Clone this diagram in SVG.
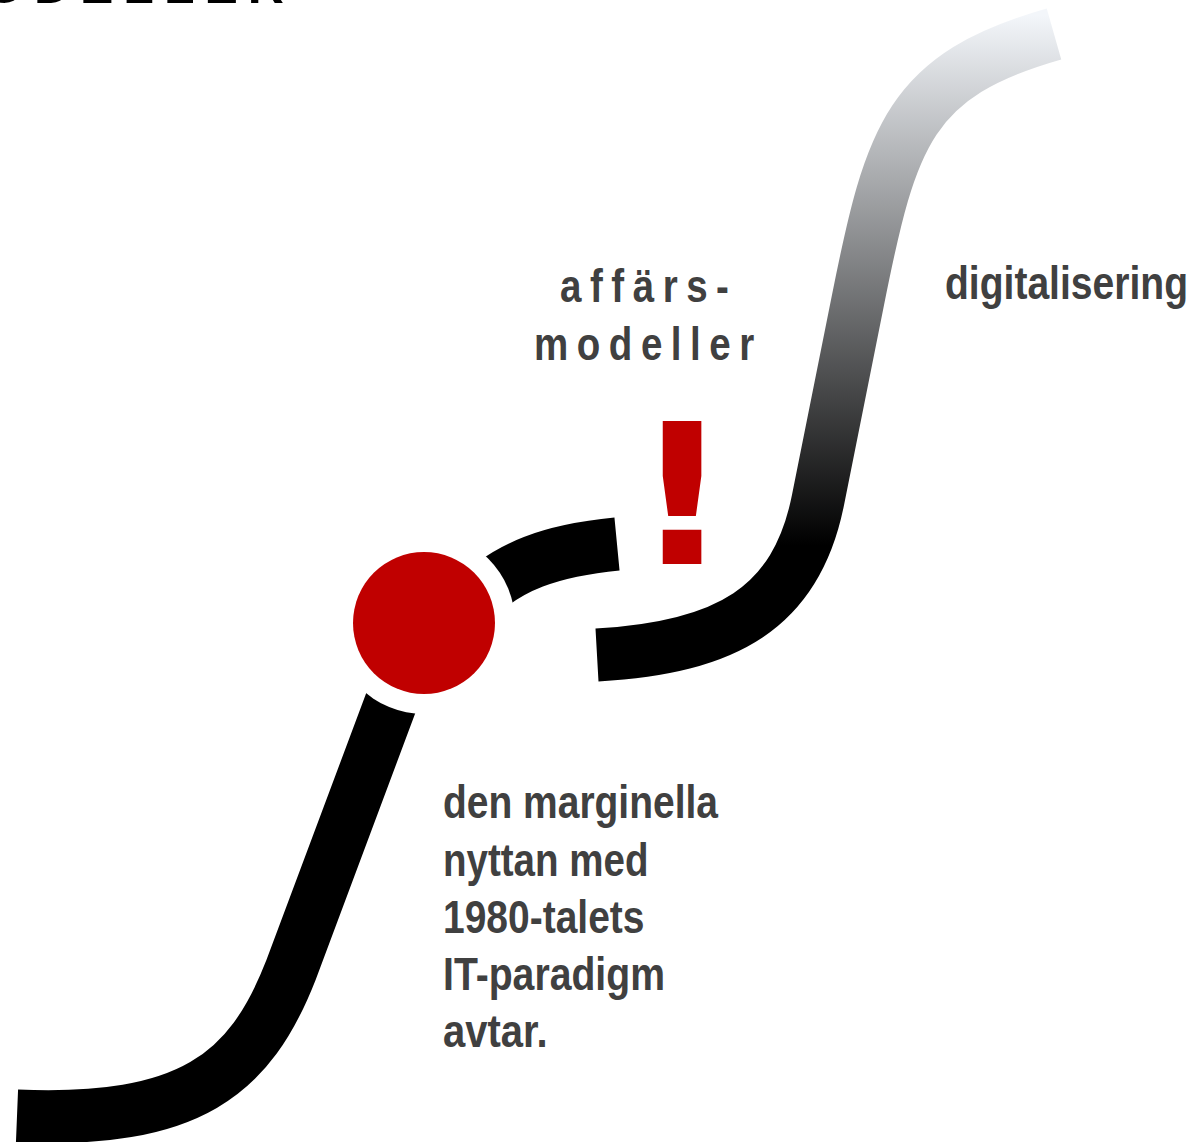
<svg xmlns="http://www.w3.org/2000/svg" width="1197" height="1142" viewBox="0 0 1197 1142">
  <style>
    .lbl { font-family: "Liberation Sans", Arial, sans-serif; font-weight: bold; font-size: 47px; fill: #404040; }
    .curve { fill: none; stroke-width: 53; stroke-linecap: butt; stroke-linejoin: round; }
  </style>
  <defs>
    <linearGradient id="fade" gradientUnits="userSpaceOnUse" x1="0" y1="545" x2="0" y2="15">
      <stop offset="0" stop-color="#000000"/>
      <stop offset="1" stop-color="#f3f6fa"/>
    </linearGradient>
  </defs>
  <rect width="1197" height="1142" fill="#ffffff"/>

  <g id="title">
    <text x="-15" y="3" font-family="Liberation Sans, Arial, sans-serif" font-weight="bold" font-size="50" letter-spacing="10" fill="#000000">ODELLER</text>
  </g>

  <g id="connectors">
    <path class="curve" stroke="#000000" d="M 17 1116 C 190 1123, 250 1075, 291 970 L 405 665"/>
    <path class="curve" stroke="#000000" d="M 470 605 C 505 565, 555 550, 617 544"/>
    <path class="curve" stroke="url(#fade)" d="M 597 655 C 727 647.6, 796.5 607.9, 818 500 L 858 300 C 891 134, 910 75, 1054 34"/>
  </g>

  <g id="node-dot">
    <circle cx="424" cy="623" r="91" fill="#ffffff"/>
    <circle cx="424" cy="623" r="71" fill="#c00000"/>
  </g>

  <g id="node-exclamation">
    <text transform="translate(682 564) scale(1.12 1)" text-anchor="middle" font-family="DejaVu Sans, sans-serif" font-weight="bold" font-size="196" fill="#c00000">!</text>
  </g>

  <g id="node-affarsmodeller">
    <text class="lbl" transform="translate(560 302) scale(0.82 1)" letter-spacing="10.4">affärs-</text>
    <text class="lbl" transform="translate(534 360) scale(0.82 1)" letter-spacing="10.4">modeller</text>
  </g>

  <g id="node-digitalisering">
    <text class="lbl" x="945" y="299" textLength="243" lengthAdjust="spacingAndGlyphs">digitalisering</text>
  </g>

  <g id="node-marginella">
    <text class="lbl" x="443" y="818" textLength="275" lengthAdjust="spacingAndGlyphs">den marginella</text>
    <text class="lbl" x="443" y="875.5" textLength="205.5" lengthAdjust="spacingAndGlyphs">nyttan med</text>
    <text class="lbl" x="443" y="933" textLength="201.5" lengthAdjust="spacingAndGlyphs">1980-talets</text>
    <text class="lbl" x="443" y="990" textLength="222" lengthAdjust="spacingAndGlyphs">IT-paradigm</text>
    <text class="lbl" x="443" y="1047" textLength="104.5" lengthAdjust="spacingAndGlyphs">avtar.</text>
  </g>
</svg>
